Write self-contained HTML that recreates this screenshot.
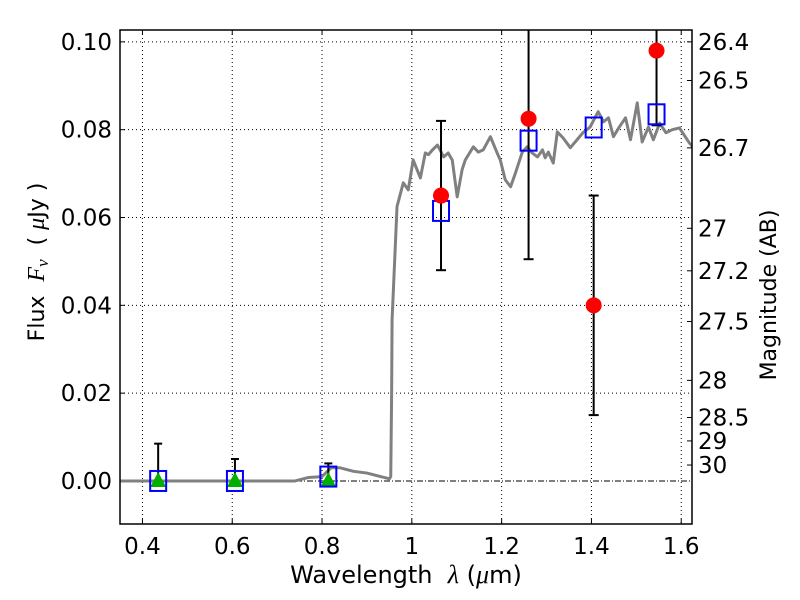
<!DOCTYPE html>
<html><head><meta charset="utf-8"><style>
body{margin:0;background:#fff;}
svg{display:block;font-family:"DejaVu Sans","Liberation Sans",sans-serif;}
text{white-space:pre;}
</style></head><body>
<svg id="chart" width="800" height="600"></svg>
<script>
const specX=[0.35,0.74,0.77,0.8,0.82,0.84,0.87,0.9,0.95,0.953,0.955,0.956,0.967,0.981,0.992,1.003,1.019,1.030,1.037,1.046,1.057,1.071,1.081,1.090,1.101,1.112,1.119,1.137,1.148,1.159,1.175,1.190,1.197,1.208,1.220,1.231,1.246,1.257,1.268,1.280,1.291,1.297,1.304,1.315,1.324,1.337,1.353,1.368,1.381,1.397,1.415,1.427,1.438,1.449,1.462,1.476,1.487,1.502,1.513,1.527,1.538,1.552,1.566,1.580,1.596,1.618,1.625];
const specY=[0,0,0.0008,0.001,0.003,0.003,0.0022,0.0018,0.0005,0.001,0.02,0.0367,0.0625,0.0679,0.0663,0.0731,0.0690,0.0747,0.0743,0.0754,0.0765,0.0738,0.0747,0.0731,0.0647,0.0709,0.0731,0.0761,0.0749,0.0754,0.0784,0.0747,0.0731,0.0686,0.0670,0.0702,0.0749,0.0761,0.0747,0.0738,0.0754,0.0736,0.0749,0.0724,0.0795,0.0781,0.0759,0.0777,0.0793,0.0806,0.0841,0.0818,0.0827,0.0784,0.0806,0.0827,0.0777,0.0861,0.0772,0.0806,0.0777,0.0815,0.0793,0.0800,0.0804,0.0770,0.0762];
const triX=[0.435,0.606,0.814];
const triY=[0,0,0];
const triErrHi=[0.0085,0.005,0.004];
const sqX=[0.435,0.606,0.814,1.065,1.26,1.405,1.545];
const sqY=[0,0,0.001,0.0615,0.0775,0.0805,0.0835];
const circX=[1.065,1.26,1.405,1.545];
const circY=[0.065,0.0825,0.040,0.098];
const circLo=[0.048,0.0505,0.015,0.081];
const circHi=[0.082,0.12,0.065,0.12];
const xTicks=[0.4,0.6,0.8,1.0,1.2,1.4,1.6];
const xTickLabels=["0.4","0.6","0.8","1","1.2","1.4","1.6"];
const yTicks=[0,0.02,0.04,0.06,0.08,0.10];
const yTickLabels=["0.00","0.02","0.04","0.06","0.08","0.10"];
const magTicks=[26.4,26.5,26.7,27,27.2,27.5,28,28.5,29,30];
const magLabels=["26.4","26.5","26.7","27","27.2","27.5","28","28.5","29","30"];

const L=120,R=692,T=30,B=524,X0=0.35,X1=1.624,Y0=-0.0098,Y1=0.1027;
const sx=v=>L+(v-X0)/(X1-X0)*(R-L);
const sy=v=>B-(v-Y0)/(Y1-Y0)*(B-T);
const svg=document.getElementById('chart');
const NS='http://www.w3.org/2000/svg';
function mk(tag,at,parent){const e=document.createElementNS(NS,tag);for(const k in at)e.setAttribute(k,at[k]);(parent||svg).appendChild(e);return e;}
const defs=mk('defs',{});const cp=mk('clipPath',{id:'pc'},defs);mk('rect',{x:L,y:T,width:R-L,height:B-T},cp);
const FS=23;
xTicks.forEach((t,i)=>{
 const g=mk('line',{x1:sx(t),x2:sx(t),y1:T,y2:B,stroke:'#000','stroke-width':1,'stroke-dasharray':'1,3'});
 
 
 mk('line',{x1:sx(t),x2:sx(t),y1:B,y2:B-5,stroke:'#000'});
 mk('line',{x1:sx(t),x2:sx(t),y1:T,y2:T+5,stroke:'#000'});
 const tx=mk('text',{x:sx(t),y:B+30,'text-anchor':'middle','font-size':FS});
 tx.textContent=xTickLabels[i];
 
 
});
yTicks.forEach((t,i)=>{
 if(t!==0){const g=mk('line',{x1:L,x2:R,y1:sy(t),y2:sy(t),stroke:'#000','stroke-width':1,'stroke-dasharray':'1,3'});
 
 }
 mk('line',{x1:L,x2:L+5,y1:sy(t),y2:sy(t),stroke:'#000'});
 const tx=mk('text',{x:L-8,y:sy(t)+8,'text-anchor':'end','font-size':FS});
 tx.textContent=yTickLabels[i];
 
 
});
const z=mk('line',{x1:L,x2:R,y1:sy(0),y2:sy(0),stroke:'#000','stroke-width':1,'stroke-dasharray':'6,2,1,2'});


magTicks.forEach((m,i)=>{
 const f=Math.pow(10,(23.9-m)/2.5);
 mk('line',{x1:R-5,x2:R,y1:sy(f),y2:sy(f),stroke:'#000'});
 const tx=mk('text',{x:R+6,y:sy(f)+8,'font-size':FS});
 tx.textContent=magLabels[i];
 
 
});
const pl=mk('polyline',{points:specX.map((x,i)=>sx(x)+','+sy(specY[i])).join(' '),fill:'none',stroke:'#808080','stroke-width':3,'stroke-linejoin':'round','clip-path':'url(#pc)'});


triX.forEach((x,i)=>{
 const g=mk('g',{});
 
 
 mk('line',{x1:sx(x),x2:sx(x),y1:sy(triY[i]),y2:sy(triErrHi[i]),stroke:'#000','stroke-width':2},g);
 mk('line',{x1:sx(x)-4,x2:sx(x)+4,y1:sy(triErrHi[i]),y2:sy(triErrHi[i]),stroke:'#000','stroke-width':2},g);
 const cx=sx(x),cy=sy(triY[i]);
 mk('polygon',{points:`${cx},${cy-9} ${cx-8},${cy+6} ${cx+8},${cy+6}`,fill:'#00b000'},g);
});
circX.forEach((x,i)=>{
 const g=mk('g',{'clip-path':'url(#pc)'});
 
 
 mk('line',{x1:sx(x),x2:sx(x),y1:sy(circLo[i]),y2:sy(circHi[i]),stroke:'#000','stroke-width':2},g);
 mk('line',{x1:sx(x)-5,x2:sx(x)+5,y1:sy(circLo[i]),y2:sy(circLo[i]),stroke:'#000','stroke-width':2},g);
 mk('line',{x1:sx(x)-5,x2:sx(x)+5,y1:sy(circHi[i]),y2:sy(circHi[i]),stroke:'#000','stroke-width':2},g);
});
sqX.forEach((x,i)=>{
 const r=mk('rect',{x:sx(x)-8,y:sy(sqY[i])-10,width:16,height:20,fill:'none',stroke:'#0000ff','stroke-width':2});
 
 
});
circX.forEach((x,i)=>{
 const c=mk('circle',{cx:sx(x),cy:sy(circY[i]),r:8,fill:'#ff0000'});
 
 
});
const fr=mk('rect',{x:L,y:T,width:R-L,height:B-T,fill:'none',stroke:'#000','stroke-width':1.5});


const xl=mk('text',{x:406,y:583,'text-anchor':'middle','font-size':24});
xl.innerHTML='Wavelength  <tspan font-family="Liberation Serif" font-style="italic" font-size="26">λ</tspan> (<tspan font-family="Liberation Serif" font-style="italic" font-size="26">μ</tspan>m)';


const yl=mk('text',{x:0,y:0,'text-anchor':'middle','font-size':22,transform:'translate(44,262) rotate(-90)'});
yl.innerHTML='Flux  <tspan font-family="Liberation Serif" font-style="italic" font-size="24">F</tspan><tspan font-family="Liberation Serif" font-style="italic" font-size="17" dy="4">ν</tspan><tspan dy="-4">  ( </tspan><tspan font-family="Liberation Serif" font-style="italic" font-size="24">μ</tspan>Jy )';


const rl=mk('text',{x:0,y:0,'text-anchor':'middle','font-size':22,transform:'translate(776,295) rotate(-90)'});
rl.textContent='Magnitude (AB)';


</script>
</body></html>
